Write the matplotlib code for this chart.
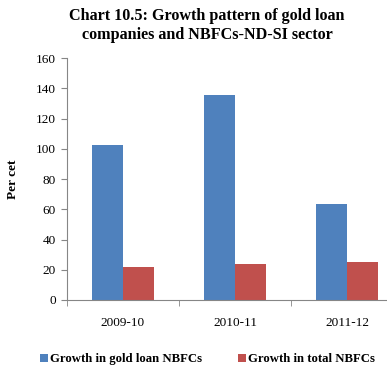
import matplotlib
matplotlib.use('Agg')
import matplotlib.pyplot as plt
import numpy as np

years = ['2009-10', '2010-11', '2011-12']
gold_loan = [102.5, 135.5, 63.3]
total_nbfc = [21.8, 23.9, 25.4]

plt.rcParams['font.family'] = ['Liberation Serif', 'DejaVu Serif']

fig = plt.figure(figsize=(3.87, 3.72), dpi=100)
ax = fig.add_axes([67 / 387, 72 / 372, (403 - 67) / 387, 242 / 372])

x = np.arange(len(years))
w = 0.28
ax.bar(x - w / 2, gold_loan, w, color='#4F81BD', label='Growth in gold loan NBFCs')
ax.bar(x + w / 2, total_nbfc, w, color='#C0504D', label='Growth in total NBFCs')

ax.set_xlim(-0.5, 2.5)
ax.set_ylim(0, 160)
ax.set_yticks(range(0, 161, 20))
ax.set_xticks(x)
ax.set_xticklabels(years, fontsize=9.5)
ax.set_xticks([-0.5, 0.5, 1.5, 2.5], minor=True)
ax.tick_params(axis='x', which='major', length=0, pad=12)
ax.tick_params(axis='x', which='minor', length=4, color='#868686')
ax.tick_params(axis='y', length=4, color='#868686', labelsize=9.5, pad=4)

for s in ['top', 'right']:
    ax.spines[s].set_visible(False)
for s in ['left', 'bottom']:
    ax.spines[s].set_color('#868686')
    ax.spines[s].set_linewidth(0.8)

ax.set_ylabel('Per cet', fontsize=9.5, fontweight='bold', labelpad=12)

fig.text(0.535, 0.978, 'Chart 10.5: Growth pattern of gold loan\ncompanies and NBFCs-ND-SI sector',
         ha='center', va='top', fontsize=11.6, fontweight='bold', linespacing=1.2)

fig.legend(loc='center', bbox_to_anchor=(0.537, 0.034), ncol=2, frameon=False,
           prop={'weight': 'bold', 'size': 9.2}, handlelength=0.6, handleheight=0.6,
           handletextpad=0.2, columnspacing=2.8)

fig.savefig('out.png', dpi=100)
